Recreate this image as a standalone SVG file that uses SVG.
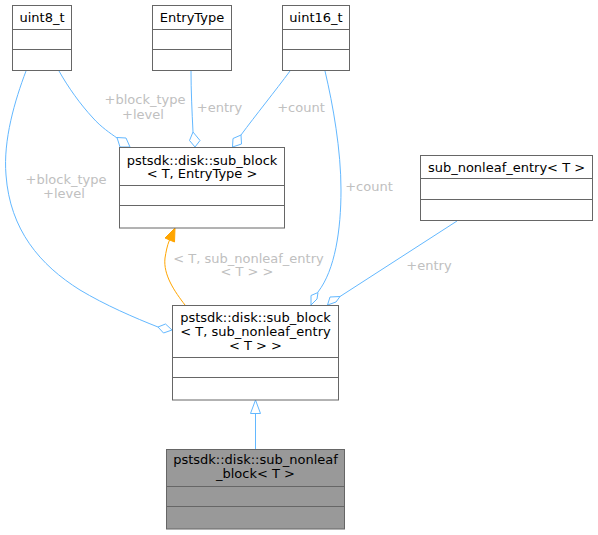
<svg xmlns="http://www.w3.org/2000/svg" width="598" height="535" viewBox="0 0 598 535">
<style>
.box{fill:#ffffff;stroke:#666666;stroke-width:1}
.hl{fill:#999999;stroke:#666666;stroke-width:1}
.sep{stroke:#666666;stroke-width:1;fill:none}
.t{font-family:"DejaVu Sans",sans-serif;font-size:13px;fill:#000000;text-anchor:middle}
.lbl{font-family:"DejaVu Sans",sans-serif;font-size:13px;fill:#c0c0c0;text-anchor:middle}
.e{fill:none;stroke:#63b8ff;stroke-width:1}
.d{fill:#ffffff;stroke:#63b8ff;stroke-width:1}
.o{fill:none;stroke:#ffa500;stroke-width:1}
</style>
<rect width="598" height="535" fill="#ffffff"/>
<g id="edges">
<path class="e" d="M59,71 C68,87 80,104 93,118 C101,127 110,133 117,138"/>
<polygon class="d" points="117,137.5 126,138 130,147 120,147"/>
<path class="e" d="M191,71 C191,90 192,112 193,132"/>
<polygon class="d" points="193,132 200,140.5 195,147 189.5,140.5"/>
<path class="e" d="M290,71 C276,90 255,116 241,135"/>
<polygon class="d" points="241,135 241.5,144 232.5,147 233,138.5"/>
<path class="e" d="M26,71 C15,100 3,140 6,175 C10,230 40,265 80,290 C105,305 135,318 158,327"/>
<polygon class="d" points="158,327 165.5,324 172,330 163.5,333"/>
<path class="e" d="M325,71 C333,105 341,150 341,190 C341,230 335,270 318,292"/>
<polygon class="d" points="318,292.5 317,299 311,305 311,295.5"/>
<path class="e" d="M457,221 L340,296.5"/>
<polygon class="d" points="340,296.5 336,302 327.5,305 330,297"/>
<path class="o" d="M185,305 C175,292 163,275 165,258 C166,252 167,246 169.5,240"/>
<polygon fill="#ffa500" stroke="#ffa500" points="175,228 174.5,242 165,238"/>
<path class="e" d="M255.5,449 L255.5,413.5"/>
<polygon class="d" points="255.5,400 260.5,413.5 250.5,413.5"/>
<text class="lbl" x="145" y="104">+block_type</text>
<text class="lbl" x="143" y="119">+level</text>
<text class="lbl" x="219.5" y="112">+entry</text>
<text class="lbl" x="301" y="112">+count</text>
<text class="lbl" x="66" y="183.5">+block_type</text>
<text class="lbl" x="64" y="198">+level</text>
<text class="lbl" x="369" y="190.5">+count</text>
<text class="lbl" x="429" y="270">+entry</text>
<text class="lbl" x="248.5" y="262.5">&lt; T, sub_nonleaf_entry</text>
<text class="lbl" x="247" y="276">&lt; T &gt; &gt;</text>
</g>
<g id="uint8_t">
<rect class="box" x="12.5" y="5.5" width="59" height="65"/>
<path class="sep" d="M12.5,29.5 H71.5 M12.5,49.5 H71.5"/>
<text class="t" x="42" y="21.5">uint8_t</text>
</g>
<g id="EntryType">
<rect class="box" x="152.5" y="5.5" width="79" height="65"/>
<path class="sep" d="M152.5,29.5 H231.5 M152.5,49.5 H231.5"/>
<text class="t" x="192" y="21.5">EntryType</text>
</g>
<g id="uint16_t">
<rect class="box" x="282.5" y="5.5" width="67" height="65"/>
<path class="sep" d="M282.5,29.5 H349.5 M282.5,49.5 H349.5"/>
<text class="t" x="316" y="21.5">uint16_t</text>
</g>
<g id="sub_block_entry">
<rect class="box" x="119.5" y="147.5" width="165" height="80.5"/>
<path class="sep" d="M119.5,185.5 H284.5 M119.5,205.5 H284.5"/>
<text class="t" x="202" y="164.5">pstsdk::disk::sub_block</text>
<text class="t" x="202" y="178">&lt; T, EntryType &gt;</text>
</g>
<g id="sub_nonleaf_entry">
<rect class="box" x="420.5" y="155.5" width="172" height="65"/>
<path class="sep" d="M420.5,178.5 H592.5 M420.5,199.5 H592.5"/>
<text class="t" x="506.5" y="171.5">sub_nonleaf_entry&lt; T &gt;</text>
</g>
<g id="sub_block_nonleaf">
<rect class="box" x="172.5" y="305.5" width="166" height="94.5"/>
<path class="sep" d="M172.5,357.5 H338.5 M172.5,377.5 H338.5"/>
<text class="t" x="255.5" y="321.5">pstsdk::disk::sub_block</text>
<text class="t" x="255.5" y="335.5">&lt; T, sub_nonleaf_entry</text>
<text class="t" x="255.5" y="349.5">&lt; T &gt; &gt;</text>
</g>
<g id="sub_nonleaf_block">
<rect class="hl" x="166.5" y="449.5" width="178" height="79.5"/>
<path class="sep" d="M166.5,486.5 H344.5 M166.5,506.5 H344.5"/>
<text class="t" x="255.5" y="464">pstsdk::disk::sub_nonleaf</text>
<text class="t" x="255.5" y="478">_block&lt; T &gt;</text>
</g>
</svg>
